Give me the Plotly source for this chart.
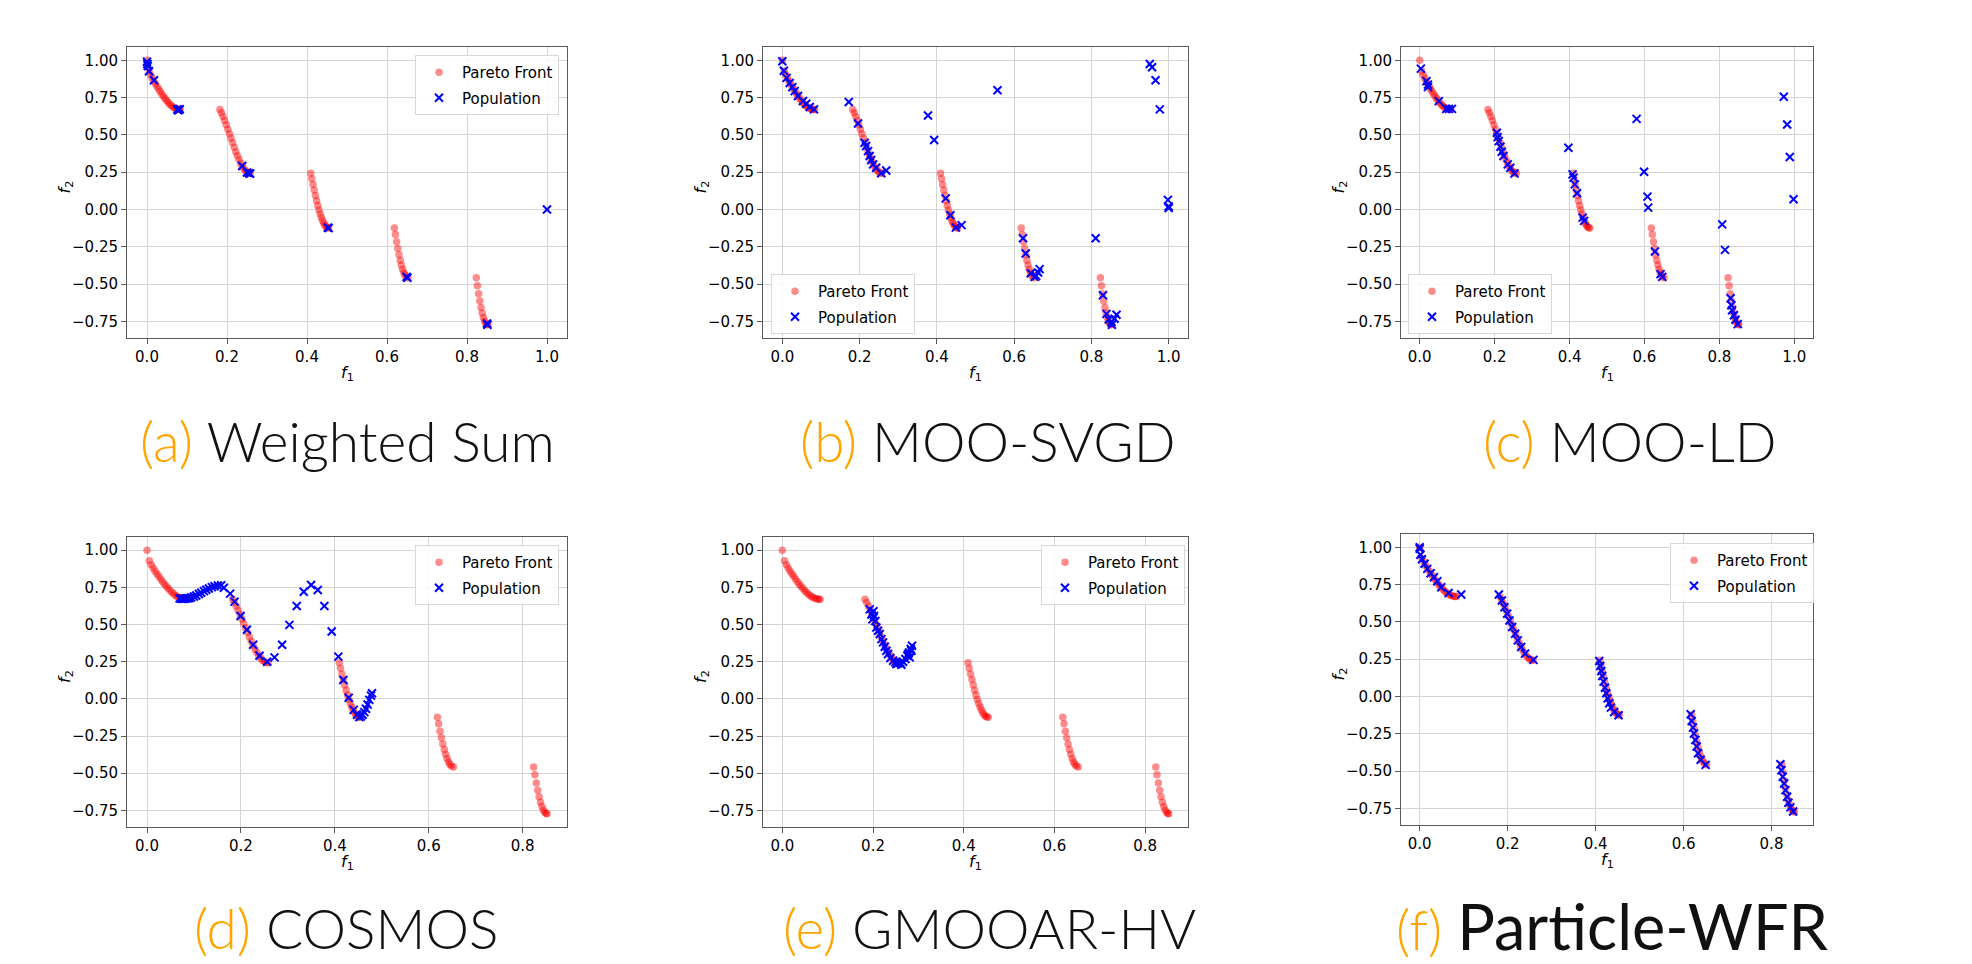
import plotly.graph_objects as go

W, H = 1972, 964

# ---------------- data ----------------
PARETO_F1 = [0.000, 0.005, 0.009, 0.013, 0.017, 0.021, 0.025, 0.029, 0.033, 0.037, 0.041, 0.045,
             0.049, 0.053, 0.057, 0.061, 0.065, 0.069, 0.073, 0.077, 0.081, 0.083,
             0.1822, 0.186, 0.190, 0.194, 0.198, 0.202, 0.206, 0.210, 0.214, 0.218, 0.222, 0.226,
             0.230, 0.234, 0.238, 0.242, 0.246, 0.250, 0.254, 0.2578,
             0.4093, 0.412, 0.415, 0.418, 0.421, 0.424, 0.427, 0.430, 0.433, 0.436, 0.439, 0.442,
             0.445, 0.448, 0.451, 0.4539,
             0.6184, 0.621, 0.624, 0.627, 0.630, 0.633, 0.636, 0.639, 0.642, 0.645, 0.648, 0.6525,
             0.8233, 0.826, 0.829, 0.832, 0.835, 0.838, 0.841, 0.844, 0.847, 0.850, 0.8518]
PARETO_F2 = [1.000, 0.9285, 0.9026, 0.8808, 0.8609, 0.8422, 0.8242, 0.8068, 0.7899, 0.7736, 0.7581, 0.7435,
             0.7296, 0.7170, 0.7057, 0.6956, 0.6871, 0.6802, 0.6750, 0.6716, 0.6699, 0.6696,
             0.6698, 0.6479, 0.6228, 0.5959, 0.5674, 0.5379, 0.5075, 0.4768, 0.4463, 0.4163, 0.3873, 0.3598,
             0.3343, 0.3113, 0.2908, 0.2737, 0.2599, 0.2500, 0.2440, 0.2423,
             0.2423, 0.2065, 0.1674, 0.1295, 0.0932, 0.0586, 0.0262, -0.0036, -0.0308, -0.0549, -0.0757, -0.0929,
             -0.1066, -0.1164, -0.1224, -0.1242,
             -0.1243, -0.168, -0.2170, -0.2621, -0.3034, -0.3406, -0.3731, -0.4007, -0.4230, -0.4402, -0.4517, -0.4583,
             -0.4579, -0.511, -0.5654, -0.6146, -0.6578, -0.6947, -0.7247, -0.7478, -0.7636, -0.772, -0.7733]

WS_F1 = [0.000, 0.001, 0.002, 0.005, 0.0175, 0.076, 0.079, 0.082, 0.078, 0.238, 0.250, 0.255, 0.258,
         0.452, 0.454, 0.649, 0.651, 0.850, 0.851, 1.000]
WS_F2 = [0.990, 0.975, 0.962, 0.926, 0.866, 0.670, 0.668, 0.672, 0.665, 0.291, 0.248, 0.242, 0.240,
         -0.122, -0.124, -0.452, -0.458, -0.765, -0.773, 0.000]

SVGD_F1 = [0.000, 0.004, 0.011, 0.019, 0.026, 0.032, 0.0405, 0.0535, 0.062, 0.071, 0.082,
           0.172, 0.196, 0.213, 0.217, 0.222, 0.226, 0.230, 0.235, 0.243, 0.256, 0.269,
           0.377, 0.393,
           0.423, 0.435, 0.449, 0.464,
           0.557,
           0.623, 0.630, 0.643, 0.653, 0.657, 0.662, 0.666,
           0.811, 0.830, 0.839, 0.845, 0.852, 0.853, 0.860, 0.865,
           0.951, 0.957, 0.966, 0.977, 0.998, 1.000, 1.000]
SVGD_F2 = [0.993, 0.930, 0.882, 0.848, 0.820, 0.793, 0.760, 0.727, 0.709, 0.687, 0.671,
           0.720, 0.576, 0.447, 0.425, 0.391, 0.358, 0.331, 0.302, 0.280, 0.242, 0.261,
           0.630, 0.465,
           0.074, -0.039, -0.122, -0.105,
           0.799,
           -0.193, -0.296, -0.428, -0.452, -0.446, -0.423, -0.400,
           -0.193, -0.575, -0.700, -0.738, -0.755, -0.773, -0.733, -0.706,
           0.975, 0.953, 0.866, 0.671, 0.064, 0.020, 0.010]

LD_F1 = [0.003, 0.018, 0.022, 0.022, 0.051, 0.071, 0.078, 0.086,
         0.206, 0.208, 0.211, 0.2155, 0.219, 0.2235, 0.235, 0.242, 0.253,
         0.397,
         0.408, 0.411, 0.414, 0.420, 0.435, 0.439,
         0.579, 0.599, 0.608, 0.610,
         0.628, 0.643, 0.6475,
         0.8075, 0.815,
         0.830, 0.832, 0.834, 0.839, 0.843, 0.849,
         0.972, 0.981, 0.988, 0.998]
LD_F2 = [0.944, 0.860, 0.837, 0.820, 0.726, 0.674, 0.674, 0.674,
         0.514, 0.485, 0.458, 0.420, 0.387, 0.358, 0.302, 0.280, 0.241,
         0.413,
         0.235, 0.213, 0.168, 0.108, -0.055, -0.077,
         0.607, 0.253, 0.086, 0.012,
         -0.282, -0.434, -0.452,
         -0.100, -0.271,
         -0.595, -0.642, -0.676, -0.709, -0.740, -0.769,
         0.755, 0.569, 0.351, 0.068]

COSMOS_F1 = [0.0695, 0.073, 0.0765, 0.080, 0.0836, 0.0871, 0.0907, 0.0942, 0.0999, 0.1049, 0.1106,
             0.1155, 0.1212, 0.1262, 0.1318, 0.1382, 0.1439, 0.1509, 0.158,
             0.1637, 0.1772, 0.1865, 0.1992, 0.2127, 0.2261, 0.2396, 0.2559, 0.2715, 0.2877,
             0.3033, 0.3189, 0.3338, 0.3494, 0.3636, 0.3777, 0.3933, 0.4075, 0.4181, 0.4295,
             0.4401, 0.4472, 0.4522, 0.4557, 0.4592, 0.4628, 0.4663, 0.4699, 0.4734, 0.4770, 0.4791]
COSMOS_F2 = [0.676, 0.674, 0.674, 0.674, 0.676, 0.676, 0.678, 0.683, 0.689, 0.696, 0.705,
             0.714, 0.725, 0.734, 0.743, 0.752, 0.758, 0.763, 0.764,
             0.748, 0.708, 0.654, 0.558, 0.465, 0.364, 0.290, 0.250, 0.279, 0.364,
             0.498, 0.625, 0.721, 0.766, 0.732, 0.625, 0.453, 0.284, 0.127, 0.007,
             -0.074, -0.107, -0.123, -0.118, -0.107, -0.089, -0.067, -0.038, -0.007, 0.022, 0.038]

GMOOAR_F1 = [0.1927, 0.1964, 0.1986, 0.2010, 0.2022, 0.2051, 0.2074, 0.2111, 0.2148, 0.2185,
             0.2221, 0.2258, 0.2295, 0.2331, 0.2383, 0.2442, 0.2493, 0.2515, 0.2552, 0.2603,
             0.2625, 0.2662, 0.2713, 0.2757, 0.2772, 0.2794, 0.2809, 0.2831, 0.2846, 0.2860]
GMOOAR_F2 = [0.602, 0.568, 0.535, 0.590, 0.557, 0.524, 0.480, 0.458, 0.436, 0.402,
             0.380, 0.351, 0.324, 0.302, 0.275, 0.257, 0.246, 0.235, 0.239, 0.241,
             0.230, 0.250, 0.268, 0.290, 0.300, 0.312, 0.279, 0.335, 0.324, 0.357]

WFR_F1 = [0.000, 0.000, 0.0015, 0.005, 0.011, 0.0172, 0.0248, 0.0323, 0.0399, 0.049, 0.0656, 0.0943,
          0.1799, 0.1867, 0.1928, 0.1988, 0.2041, 0.2102, 0.2170, 0.2230, 0.2306, 0.2397, 0.2586,
          0.4083, 0.4106, 0.4129, 0.4151, 0.4181, 0.4212, 0.4242, 0.4272, 0.4310, 0.4348, 0.4423, 0.4522,
          0.6162, 0.6185, 0.6215, 0.6238, 0.6268, 0.6298, 0.6329, 0.6389, 0.6502,
          0.8203, 0.8226, 0.8256, 0.8287, 0.8317, 0.8355, 0.8385, 0.8430, 0.8491]
WFR_F2 = [1.000, 0.990, 0.950, 0.920, 0.890, 0.855, 0.826, 0.799, 0.772, 0.732, 0.694, 0.683,
          0.683, 0.643, 0.598, 0.554, 0.509, 0.465, 0.420, 0.376, 0.331, 0.287, 0.245,
          0.237, 0.204, 0.170, 0.137, 0.099, 0.058, 0.021, -0.013, -0.046, -0.075, -0.104, -0.126,
          -0.120, -0.165, -0.209, -0.249, -0.292, -0.336, -0.381, -0.425, -0.459,
          -0.455, -0.495, -0.539, -0.584, -0.628, -0.673, -0.713, -0.744, -0.771]

CAPTION_LETTERS = ["(a)", "(b)", "(c)", "(d)", "(e)", "(f)"]
CAPTION_NAMES = ["Weighted Sum", "MOO-SVGD", "MOO-LD", "COSMOS", "GMOOAR-HV", "Particle-WFR"]

X_TICKS_WIDE = [0.0, 0.2, 0.4, 0.6, 0.8, 1.0]
X_TICKTEXT_WIDE = ["0.0", "0.2", "0.4", "0.6", "0.8", "1.0"]
X_TICKS_NARROW = [0.0, 0.2, 0.4, 0.6, 0.8]
X_TICKTEXT_NARROW = ["0.0", "0.2", "0.4", "0.6", "0.8"]
Y_TICKS = [-0.75, -0.5, -0.25, 0.0, 0.25, 0.5, 0.75, 1.0]
Y_TICKTEXT = ["\u22120.75", "\u22120.50", "\u22120.25", "0.00", "0.25", "0.50", "0.75", "1.00"]

POPULATIONS = [(WS_F1, WS_F2), (SVGD_F1, SVGD_F2), (LD_F1, LD_F2),
               (COSMOS_F1, COSMOS_F2), (GMOOAR_F1, GMOOAR_F2), (WFR_F1, WFR_F2)]

# ---------------- layout (pixel boxes) ----------------
# plot area: left, top, right, bottom
BOXES = [(119, 39, 559, 330), (755, 39, 1180, 330), (1393, 39, 1805, 330),
         (119, 529, 559, 819), (755, 529, 1180, 819), (1393, 526, 1805, 817)]
XRANGES = [[-0.05, 1.05]] * 3 + [[-0.0426, 0.8944]] * 3
YRANGE = [-0.862, 1.089]
LEGEND_POS = [(407, 47), (763, 266), (1400, 266), (407, 537), (1033, 537), (1662, 535)]
CAPTION_POS = [(339, 433), (980, 433), (1622, 433), (338, 920), (981, 920), (1604, 917)]

FONT = "DejaVu Sans"
fig = go.Figure()

def px(x):
    return x / W

def py(y):
    return 1 - y / H

annotations = []
for i in range(6):
    n = "" if i == 0 else str(i + 1)
    xa, ya = "x" + n, "y" + n
    leg = "legend" if i == 0 else "legend" + str(i + 1)
    f1, f2 = POPULATIONS[i]
    fig.add_trace(go.Scatter(
        x=PARETO_F1, y=PARETO_F2, mode="markers", name="Pareto Front",
        marker=dict(symbol="circle", size=7.5, color="rgba(255,0,0,0.45)", line=dict(width=0)),
        xaxis=xa, yaxis=ya, legend=leg, legendgroup="pf" + n, showlegend=True))
    fig.add_trace(go.Scatter(
        x=f1, y=f2, mode="markers", name="Population",
        marker=dict(symbol="x-thin", size=8, color="blue", line=dict(width=2, color="blue")),
        xaxis=xa, yaxis=ya, legend=leg, legendgroup="pop" + n, showlegend=True))

    l, t, r, b = BOXES[i]
    wide = i < 3
    axis_common = dict(showgrid=True, gridcolor="#d4d4d4", gridwidth=1, zeroline=False,
                       showline=True, mirror=True, linecolor="#5a5a5a", linewidth=1,
                       ticks="outside", ticklen=5, tickcolor="#5a5a5a", tickwidth=1,
                       tickfont=dict(family=FONT, size=15, color="black"))
    fig.update_layout(**{
        ("xaxis" + n): dict(domain=[px(l), px(r)], range=XRANGES[i], anchor=ya,
                            tickvals=X_TICKS_WIDE if wide else X_TICKS_NARROW,
                            ticktext=X_TICKTEXT_WIDE if wide else X_TICKTEXT_NARROW,
                            **axis_common),
        ("yaxis" + n): dict(domain=[py(b), py(t)], range=YRANGE, anchor=xa,
                            tickvals=Y_TICKS, ticktext=Y_TICKTEXT, **axis_common),
        leg: dict(x=px(LEGEND_POS[i][0]), y=py(LEGEND_POS[i][1]), xanchor="left", yanchor="top",
                  bgcolor="rgba(255,255,255,0.85)", bordercolor="#d8d8d8", borderwidth=1,
                  font=dict(family=FONT, size=15, color="black"), tracegroupgap=3,
                  itemwidth=36),
    })

    # axis labels
    cx = (l + r) / 2
    annotations.append(dict(text="<i>f</i><sub>1</sub>", x=px(cx), y=py(b + 35), xref="paper",
                            yref="paper", showarrow=False, xanchor="center", yanchor="middle",
                            font=dict(family=FONT, size=16, color="black")))
    annotations.append(dict(text="<i>f</i><sub>2</sub>", x=px(l - 62), y=py((t + b) / 2 - 5),
                            xref="paper", yref="paper", showarrow=False, textangle=-90,
                            xanchor="center", yanchor="middle",
                            font=dict(family=FONT, size=16, color="black")))
    # caption
    letter = '<span style="color:#FFA500">' + CAPTION_LETTERS[i] + "</span> "
    if i == 5:
        text = letter + '<span style="font-weight:400;font-size:63px">' + CAPTION_NAMES[i] + "</span>"
    else:
        text = letter + CAPTION_NAMES[i]
    cxp, cyp = CAPTION_POS[i]
    annotations.append(dict(text=text, x=px(cxp), y=py(cyp), xref="paper", yref="paper",
                            showarrow=False, xanchor="center", yanchor="middle",
                            font=dict(family="Lato", size=55, color="#111111", weight=300)))

fig.update_layout(width=W, height=H, margin=dict(l=0, r=0, t=0, b=0),
                  paper_bgcolor="white", plot_bgcolor="white", annotations=annotations)

fig.write_html("out.html")
